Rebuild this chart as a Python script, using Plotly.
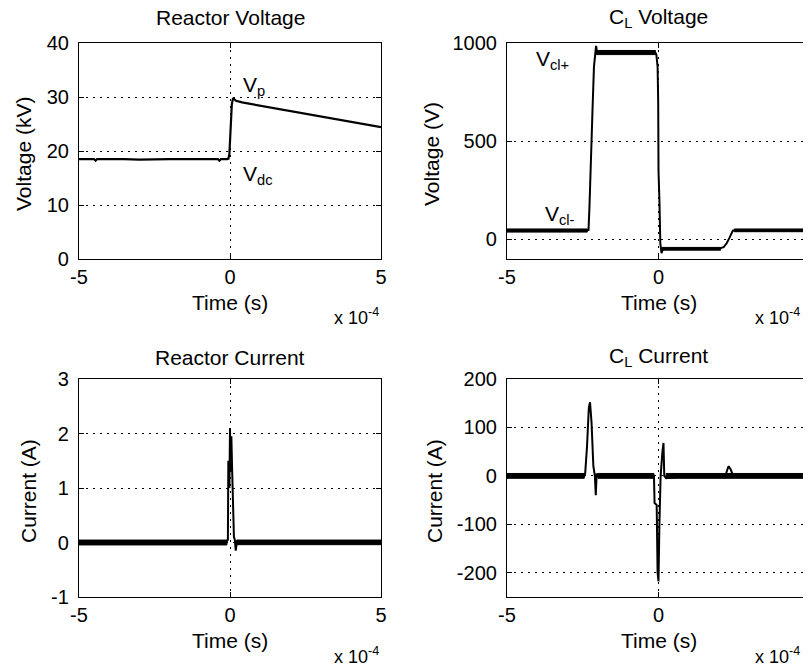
import plotly.graph_objects as go

# ---- data (time in units of 1e-4 s) ----
rv_t = [-5.0, -4.5, -4.45, -4.4, -3.5, -3.0, -2.0, -1.0, -0.4, -0.35, -0.3, -0.1, -0.05, -0.02,
        0.0, 0.03, 0.06, 0.1, 0.2, 0.4, 0.7, 1.0, 1.5, 2.0, 2.5, 3.0, 3.5, 4.0, 4.5, 5.0]
rv_v = [18.5, 18.5, 18.2, 18.5, 18.5, 18.4, 18.5, 18.5, 18.5, 18.2, 18.5, 18.5, 18.6, 19.5,
        21.5, 27.0, 28.6, 29.8, 29.3, 29.0, 28.7, 28.4, 27.9, 27.4, 26.9, 26.4, 25.9, 25.4, 24.9, 24.4]

cv_t = [-5.0, -4.0, -3.0, -2.4, -2.31, -2.28, -2.25, -2.18, -2.13, -2.08, -2.06, -2.03, -1.5, -1.0,
        -0.5, -0.1, -0.07, -0.03, -0.01, 0.0, 0.03, 0.06, 0.1, 0.15, 0.5, 1.0, 1.5, 2.0, 2.15, 2.25,
        2.35, 2.45, 2.55, 3.0, 4.0, 5.0]
cv_v = [44, 45, 44, 45, 48, 160, 350, 650, 880, 975, 985, 955, 952, 952,
        952, 950, 940, 880, 700, 350, 200, -20, -70, -48, -47, -46, -47, -46, -40, -20,
        10, 44, 46, 46, 46, 45]

rc_t = [-5.0, -4.5, -4.0, -3.5, -3.0, -2.5, -2.0, -1.5, -1.0, -0.5, -0.15, -0.07, -0.055, -0.02,
        0.0, 0.02, 0.045, 0.07, 0.1, 0.13, 0.16, 0.19, 0.23, 0.3, 1.0, 2.0, 3.0, 4.0, 5.0]
rc_i = [0.0, 0.0, 0.0, 0.0, 0.0, 0.0, 0.0, 0.0, 0.0, 0.0, 0.0, 0.05, 1.5, 1.0,
        2.1, 1.3, 1.95, 1.35, 0.8, 0.1, 0.05, -0.15, 0.02, 0.02, 0.01, 0.01, 0.01, 0.01, 0.01]

cc_t = [-5.0, -4.0, -3.0, -2.45, -2.42, -2.36, -2.3, -2.26, -2.21, -2.15, -2.1, -2.07, -2.04, -2.0,
        -1.0, -0.15, -0.13, -0.06, -0.03, 0.0, 0.03, 0.07, 0.13, 0.165, 0.19, 0.25, 1.0, 2.0,
        2.22, 2.31, 2.38, 2.45, 2.55, 3.5, 4.0, 5.0]
cc_i = [0, 0, 0, 0, 5, 60, 140, 152, 110, 20, 0, -40, 5, 0,
        0, 0, -56, -60, -200, -218, -100, 0, 50, 68, 0, -5, 0, 0,
        3, 20, 14, 2, 0, 0, 0, 0]

# measurement-noise envelopes on the flat parts: (t_start, t_end, low, high)
rc_noise = [(-5.0, -0.1, -0.045, 0.045), (0.22, 5.0, -0.04, 0.045)]
cc_noise = [(-5.0, -2.45, -5, 5), (-2.0, -0.15, -5, 5), (0.25, 5.0, -5, 5)]
cv_noise = [(-5.0, -2.35, 37, 53), (-2.05, -0.1, 941, 962), (0.12, 2.05, -55, -41),
            (2.5, 5.0, 39, 53)]

x_ticks = [-5, 0, 5]
rv_yticks = [0, 10, 20, 30, 40]
cv_yticks = [0, 500, 1000]
rc_yticks = [-1, 0, 1, 2, 3]
cc_yticks = [-200, -100, 0, 100, 200]

titles = ["Reactor Voltage", "C<sub>L</sub> Voltage", "Reactor Current", "C<sub>L</sub> Current"]
ytitles = ["Voltage (kV)", "Voltage (V)", "Current (A)", "Current (A)"]

SCALE = 1e-4
W, H = 811, 668
OFF = 8  # page body margin
FONT = "Liberation Sans"
FS = 20


def px(xp):
    return (xp - OFF) / W


def py(yp):
    return 1 - (yp - OFF) / H


fig = go.Figure()
series = [(rv_t, rv_v, 2.2, None), (cv_t, cv_v, 2.0, cv_noise),
          (rc_t, rc_i, 2.0, rc_noise), (cc_t, cc_i, 2.0, cc_noise)]
for k, (t, v, lw, noise) in enumerate(series):
    sfx = "" if k == 0 else str(k + 1)
    if noise:
        for (a, b, lo, hi) in noise:
            fig.add_trace(go.Scatter(x=[a * SCALE, b * SCALE, b * SCALE, a * SCALE, a * SCALE],
                                     y=[lo, lo, hi, hi, lo], mode="lines", fill="toself",
                                     fillcolor="black", line=dict(color="black", width=1),
                                     xaxis="x" + sfx, yaxis="y" + sfx, showlegend=False,
                                     hoverinfo="skip"))
    fig.add_trace(go.Scatter(x=[ti * SCALE for ti in t], y=v, mode="lines",
                             line=dict(color="black", width=lw),
                             xaxis="x" + sfx, yaxis="y" + sfx, showlegend=False,
                             hoverinfo="skip"))

# axes boxes in page pixels: (left, right, top, bottom)
boxes = [(79, 381, 43, 259), (507, 810, 43, 259), (79, 381, 379, 597), (507, 810, 379, 597)]
yranges = [[0, 40], [-100, 1000], [-1, 3], [-250, 200]]
yticks = [rv_yticks, cv_yticks, rc_yticks, cc_yticks]
ytitle_x = [23, 431, 29, 435]
title_y = [18, 18, 357, 357]
exp_right = [381, 802, 381, 802]

ax_common = dict(showline=True, linecolor="black", linewidth=1.2, mirror="ticks",
                 ticks="inside", ticklen=5, tickcolor="black", showgrid=True,
                 gridcolor="black", gridwidth=1, griddash="2px,5px", zeroline=False,
                 automargin=False, tickfont=dict(family=FONT, size=FS, color="black"))

layout = {}
ann = []
for k, (l, r, t, b) in enumerate(boxes):
    sfx = "" if k == 0 else str(k + 1)
    layout["xaxis" + sfx] = dict(ax_common, domain=[px(l), px(r)],
                                 range=[-5 * SCALE, 5 * SCALE],
                                 tickvals=[v * SCALE for v in x_ticks],
                                 ticktext=[str(v) for v in x_ticks],
                                 anchor="y" + sfx)
    layout["yaxis" + sfx] = dict(ax_common, domain=[py(b), py(t)],
                                 range=yranges[k], tickvals=yticks[k],
                                 ticktext=[str(v) for v in yticks[k]],
                                 ticklabelstandoff=5,
                                 anchor="x" + sfx)
    cx = (l + r) / 2
    ann.append(dict(text=titles[k], x=px(cx), y=py(title_y[k]), xref="paper", yref="paper",
                    showarrow=False, font=dict(family=FONT, size=21, color="black"),
                    xanchor="center", yanchor="middle"))
    ann.append(dict(text="Time (s)", x=px(cx), y=py(b + 43), xref="paper", yref="paper",
                    showarrow=False, font=dict(family=FONT, size=21, color="black"),
                    xanchor="center", yanchor="middle"))
    ann.append(dict(text="x 10<sup>-4</sup>", x=px(exp_right[k]),
                    y=py(b + 58), xref="paper", yref="paper", showarrow=False,
                    font=dict(family=FONT, size=18, color="black"),
                    xanchor="right", yanchor="middle"))
    ann.append(dict(text=ytitles[k], x=px(ytitle_x[k]), y=py((t + b) / 2 + 3),
                    xref="paper", yref="paper", showarrow=False, textangle=-90,
                    font=dict(family=FONT, size=21, color="black"),
                    xanchor="center", yanchor="middle"))

# in-plot labels (data coordinates)
lab = dict(showarrow=False, font=dict(family=FONT, size=21, color="black"),
           xanchor="left", yanchor="middle")
ann.append(dict(lab, text="V<sub>p</sub>", x=0.35 * SCALE, y=32, xref="x", yref="y"))
ann.append(dict(lab, text="V<sub>dc</sub>", x=0.38 * SCALE, y=15.5, xref="x", yref="y"))
ann.append(dict(lab, text="V<sub>cl+</sub>", x=-4.1 * SCALE, y=915, xref="x2", yref="y2"))
ann.append(dict(lab, text="V<sub>cl-</sub>", x=-3.8 * SCALE, y=125, xref="x2", yref="y2"))

fig.update_layout(**layout)
fig.update_layout(width=W, height=H, margin=dict(l=0, r=0, t=0, b=0),
                  paper_bgcolor="white", plot_bgcolor="white",
                  font=dict(family=FONT, size=FS, color="black"),
                  annotations=ann)
fig.write_html("out.html")
